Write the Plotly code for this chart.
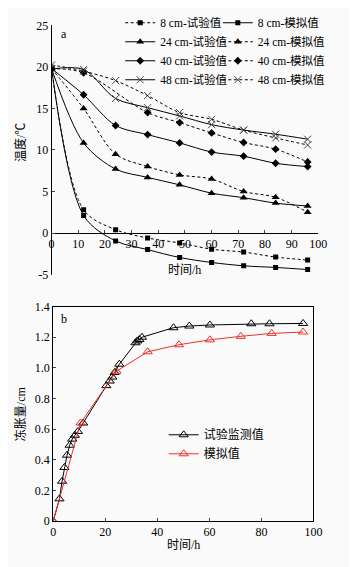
import plotly.graph_objects as go

# ---------------- Panel a data ----------------
t_a = [0, 12, 24, 36, 48, 60, 72, 84, 96]
t_a40sim = [0, 12, 36, 48, 60, 72, 84, 96]

d8_exp = [19.8, 2.8, 0.4, -0.6, -1.2, -1.95, -2.3, -2.9, -3.25]
d8_sim = [19.8, 2.1, -0.95, -2.0, -2.95, -3.55, -3.95, -4.15, -4.4]
d24_exp = [19.8, 10.85, 7.7, 6.7, 5.8, 4.8, 4.25, 3.6, 3.25]
d24_sim = [19.8, 15.0, 9.5, 8.0, 7.0, 6.5, 5.0, 4.3, 2.5]
d40_exp = [19.8, 16.65, 12.95, 11.85, 10.85, 9.75, 9.25, 8.4, 8.0]
d40_sim = [19.8, 19.3, 14.5, 13.3, 12.05, 10.9, 10.1, 8.55]
d48_exp = [19.75, 19.7, 16.2, 15.1, 14.1, 13.05, 12.4, 11.9, 11.3]
d48_sim = [20.25, 19.5, 18.35, 16.55, 14.5, 13.7, 12.4, 11.45, 10.6]

names_a = ["8 cm-试验值", "8 cm-模拟值", "24 cm-试验值", "24 cm-模拟值",
           "40 cm-试验值", "40 cm-模拟值", "48 cm-试验值", "48 cm-模拟值"]

# ---------------- Panel b data ----------------
t_b_exp = [0, 2.4, 3.4, 4.3, 5.3, 6.3, 7.3, 8.3, 9.5, 11.5,
           20.4, 21.7, 22.7, 23.6, 25.4, 31.6, 32.3, 33.1, 34.1,
           46.2, 52.3, 60.2, 76.1, 83.1, 96]
v_b_exp = [0, 0.145, 0.26, 0.35, 0.43, 0.495, 0.535, 0.56, 0.585, 0.64,
           0.884, 0.914, 0.94, 0.97, 1.024, 1.164, 1.176, 1.185, 1.20,
           1.262, 1.273, 1.28, 1.288, 1.288, 1.29]
t_b_sim = [0, 10.5, 24.3, 36.3, 48.3, 60.2, 72.1, 83.9, 96]
v_b_sim = [0, 0.64, 0.978, 1.105, 1.151, 1.183, 1.206, 1.225, 1.234]
names_b = ["试验监测值", "模拟值"]

ya_ticks = [-5, 0, 5, 10, 15, 20, 25]
ya_text = ["-5", "0", "5", "10", "15", "20", "25"]
xa_ticks = [0, 10, 20, 30, 40, 50, 60, 70, 80, 90, 100]
yb_ticks = [0, 0.2, 0.4, 0.6, 0.8, 1.0, 1.2, 1.4]
yb_text = ["0", "0.2", "0.4", "0.6", "0.8", "1.0", "1.2", "1.4"]
xb_ticks = [0, 20, 40, 60, 80, 100]

W, H = 357, 567
OFF = 8  # page body margin offset
FONT = "Liberation Serif, Times New Roman, Noto Sans CJK SC, serif"

def px_x(p):
    return (p - OFF) / W

def px_y(p):
    return 1 - (p - OFF) / H

fig = go.Figure()

DASH = "3px,2.5px"
LW = 1

def add_a(x, y, name, symbol, dashed, size, legend, mcolor="black", mline=None):
    marker = dict(symbol=symbol, size=size, color=mcolor)
    if mline:
        marker["line"] = mline
    fig.add_trace(go.Scatter(
        x=x, y=y, name=name, mode="lines+markers",
        line=dict(color="black", width=LW, dash=DASH if dashed else "solid",
                  shape="spline", smoothing=0.9),
        marker=marker, xaxis="x", yaxis="y", legend=legend))

xl = dict(color="#555", width=1)
add_a(t_a, d8_exp, names_a[0], "square", True, 5, "legend")
add_a(t_a, d24_exp, names_a[2], "triangle-up", False, 7, "legend")
add_a(t_a, d40_exp, names_a[4], "diamond", False, 6, "legend")
add_a(t_a, d48_exp, names_a[6], "x-thin-open", False, 7, "legend", mcolor="#444", mline=xl)
add_a(t_a, d8_sim, names_a[1], "square", False, 5, "legend2")
add_a(t_a, d24_sim, names_a[3], "triangle-up", True, 7, "legend2")
add_a(t_a40sim, d40_sim, names_a[5], "diamond", True, 6, "legend2")
add_a(t_a, d48_sim, names_a[7], "x-thin-open", True, 7, "legend2", mcolor="#444", mline=xl)

fig.add_trace(go.Scatter(
    x=t_b_exp, y=v_b_exp, name=names_b[0], mode="lines+markers",
    line=dict(color="black", width=1),
    marker=dict(symbol="triangle-up-open", size=8, color="black", line=dict(width=1)),
    xaxis="x2", yaxis="y2", legend="legend3"))
fig.add_trace(go.Scatter(
    x=t_b_sim, y=v_b_sim, name=names_b[1], mode="lines+markers",
    line=dict(color="#e8322c", width=1),
    marker=dict(symbol="triangle-up-open", size=8, color="#e8322c", line=dict(width=1)),
    xaxis="x2", yaxis="y2", legend="legend3"))

# domains (pixels -> paper)
a_x0, a_x1, a_y0, a_y1 = 50, 326, 16.7, 273
b_x0, b_x1, b_y0, b_y1 = 51.7, 321, 306, 526.7
ya_dom = [px_y(a_y1), px_y(a_y0)]
zero_pos = ya_dom[0] + (0 - (-5)) / 30 * (ya_dom[1] - ya_dom[0])

tickfont = dict(family=FONT, size=12, color="black")
legfont_a = dict(family=FONT, size=11.5, color="black")

fig.update_layout(
    width=W, height=H,
    margin=dict(l=0, r=0, t=0, b=0),
    paper_bgcolor="#fafafa", plot_bgcolor="rgba(0,0,0,0)",
    font=dict(family=FONT, color="black", size=12),
    xaxis=dict(domain=[px_x(a_x0), px_x(a_x1)], range=[0, 100], anchor="free",
               position=zero_pos, showgrid=False, zeroline=False, showline=True,
               linecolor="black", linewidth=1, ticks="inside", ticklen=3,
               tickvals=xa_ticks, tickfont=tickfont),
    yaxis=dict(domain=ya_dom, range=[-5, 25], anchor="x", showgrid=False,
               zeroline=False, showline=True, linecolor="black", linewidth=1,
               ticks="inside", ticklen=3, tickvals=ya_ticks, ticktext=ya_text,
               tickfont=tickfont),
    xaxis2=dict(domain=[px_x(b_x0), px_x(b_x1)], range=[0, 100], anchor="y2",
                showgrid=False, zeroline=False, showline=True, mirror=True,
                linecolor="black", linewidth=1, ticks="inside", ticklen=3,
                tickvals=xb_ticks, tickfont=tickfont),
    yaxis2=dict(domain=[px_y(b_y1), px_y(b_y0)], range=[0, 1.4], anchor="x2",
                showgrid=False, zeroline=False, showline=True, mirror=True,
                linecolor="black", linewidth=1, ticks="inside", ticklen=3,
                tickvals=yb_ticks, ticktext=yb_text, tickfont=tickfont),
    legend=dict(x=px_x(121), y=px_y(-1), xanchor="left", yanchor="top",
                bgcolor="rgba(0,0,0,0)", font=legfont_a,
                tracegroupgap=0, itemwidth=30),
    legend2=dict(x=px_x(222), y=px_y(-1), xanchor="left", yanchor="top",
                 bgcolor="rgba(0,0,0,0)", font=legfont_a,
                 tracegroupgap=0, itemwidth=30),
    legend3=dict(x=px_x(166), y=px_y(423), xanchor="left", yanchor="top",
                 bgcolor="rgba(0,0,0,0)", font=dict(family=FONT, size=12),
                 tracegroupgap=0, itemwidth=30),
    showlegend=True,
)

ann = [
    dict(text="a", x=px_x(63), y=px_y(25)),
    dict(text="b", x=px_x(63), y=px_y(319)),
    dict(text="时间/h", x=px_x(188), y=px_y(268)),
    dict(text="时间/h", x=px_x(186), y=px_y(551)),
    dict(text="温度/℃", x=px_x(18), y=px_y(137), textangle=-90),
    dict(text="冻胀量/cm", x=px_x(18), y=px_y(416), textangle=-90),
]
for a in ann:
    fig.add_annotation(xref="paper", yref="paper", showarrow=False,
                       xanchor="center", yanchor="middle",
                       font=dict(family=FONT, size=12, color="black"), **a)

fig.write_html("out.html")
